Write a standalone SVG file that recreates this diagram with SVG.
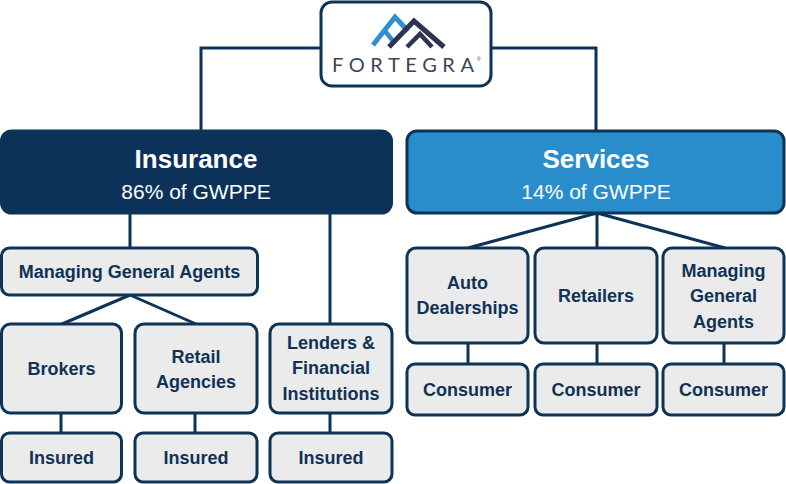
<svg xmlns="http://www.w3.org/2000/svg" width="786" height="484" viewBox="0 0 786 484">
<style>
.conn{fill:none;stroke:#0d3357;stroke-width:3}
.box{fill:#ebebeb;stroke:#0d3357;stroke-width:3}
.lbl{font-family:"Liberation Sans",Arial,sans-serif;font-weight:bold;font-size:18px;fill:#0f3256;text-anchor:middle}
.t1{font-family:"Liberation Sans",Arial,sans-serif;font-weight:bold;font-size:26px;fill:#ffffff;text-anchor:middle}
.t2{font-family:"Liberation Sans",Arial,sans-serif;font-size:21px;fill:#ffffff;text-anchor:middle}
</style>
<rect width="786" height="484" fill="#ffffff"/>
<g id="connectors">
<path class="conn" d="M321,48 H201 V131"/>
<path class="conn" d="M491,48 H596 V131"/>
<path class="conn" d="M130,213 V248"/>
<path class="conn" d="M330,213 V324"/>
<path class="conn" d="M130,295 L62,324 M130,295 L196,324"/>
<path class="conn" d="M61,413 V433 M195,413 V433 M330,413 V433"/>
<path class="conn" d="M597,213 L468,248 M597,213 V248 M597,213 L725,248"/>
<path class="conn" d="M468,343 V364 M597,343 V364 M724,343 V364"/>
</g>
<g id="fortegra">
<rect x="321" y="2" width="170" height="84" rx="11" fill="#ffffff" stroke="#0d3357" stroke-width="3"/>
<polyline points="373,45 395,17 408,31" fill="none" stroke="#2f8fd0" stroke-width="5"/>
<polyline points="385,31 393,41" fill="none" stroke="#2f8fd0" stroke-width="4.5"/>
<polyline points="389,47 414,21 444,47" fill="none" stroke="#2b3450" stroke-width="5"/>
<polyline points="407,47 420,34 432,47" fill="none" stroke="#2b3450" stroke-width="4.5"/>
<text x="332" y="72" font-family="Lato,'Liberation Sans',sans-serif" font-size="20" fill="#3b4657" textLength="142" lengthAdjust="spacing">FORTEGRA</text>
<text x="477" y="61" font-family="'Liberation Sans',sans-serif" font-size="5" fill="#3b4657">®</text>
</g>
<g id="insurance">
<rect x="1.5" y="131" width="390" height="82" rx="10" fill="#0c3259" stroke="#0d3357" stroke-width="3"/>
<text class="t1" x="196" y="168">Insurance</text>
<text class="t2" x="196" y="199">86% of GWPPE</text>
</g>
<g id="services">
<rect x="407" y="131" width="377" height="82" rx="10" fill="#2a8dcb" stroke="#0d3357" stroke-width="3"/>
<text class="t1" x="596" y="168">Services</text>
<text class="t2" x="596" y="199">14% of GWPPE</text>
</g>
<g id="mga-ins">
<rect class="box" x="1.5" y="248" width="256" height="47" rx="8"/>
<text class="lbl" x="129.5" y="278">Managing General Agents</text>
</g>
<g id="brokers">
<rect class="box" x="1.5" y="324" width="120" height="89" rx="9"/>
<text class="lbl" x="61.5" y="375">Brokers</text>
</g>
<g id="retail-agencies">
<rect class="box" x="135" y="324" width="122" height="89" rx="9"/>
<text class="lbl" x="196" y="363">Retail</text>
<text class="lbl" x="196" y="388">Agencies</text>
</g>
<g id="lenders">
<rect class="box" x="270" y="324" width="122" height="89" rx="9"/>
<text class="lbl" x="331" y="349">Lenders &amp;</text>
<text class="lbl" x="331" y="374">Financial</text>
<text class="lbl" x="331" y="400">Institutions</text>
</g>
<g id="insured1">
<rect class="box" x="1.5" y="433" width="120" height="49" rx="8"/>
<text class="lbl" x="61.5" y="464">Insured</text>
</g>
<g id="insured2">
<rect class="box" x="135" y="433" width="122" height="49" rx="8"/>
<text class="lbl" x="196" y="464">Insured</text>
</g>
<g id="insured3">
<rect class="box" x="270" y="433" width="122" height="49" rx="8"/>
<text class="lbl" x="331" y="464">Insured</text>
</g>
<g id="auto">
<rect class="box" x="407" y="248" width="121" height="95" rx="9"/>
<text class="lbl" x="467.5" y="289">Auto</text>
<text class="lbl" x="467.5" y="314">Dealerships</text>
</g>
<g id="retailers">
<rect class="box" x="535" y="248" width="122" height="95" rx="9"/>
<text class="lbl" x="596" y="302">Retailers</text>
</g>
<g id="mga-svc">
<rect class="box" x="663" y="248" width="121" height="95" rx="9"/>
<text class="lbl" x="723.5" y="277">Managing</text>
<text class="lbl" x="723.5" y="302">General</text>
<text class="lbl" x="723.5" y="328">Agents</text>
</g>
<g id="consumer1">
<rect class="box" x="407" y="364" width="121" height="51" rx="8"/>
<text class="lbl" x="467.5" y="396">Consumer</text>
</g>
<g id="consumer2">
<rect class="box" x="535" y="364" width="122" height="51" rx="8"/>
<text class="lbl" x="596" y="396">Consumer</text>
</g>
<g id="consumer3">
<rect class="box" x="663" y="364" width="121" height="51" rx="8"/>
<text class="lbl" x="723.5" y="396">Consumer</text>
</g>
</svg>
